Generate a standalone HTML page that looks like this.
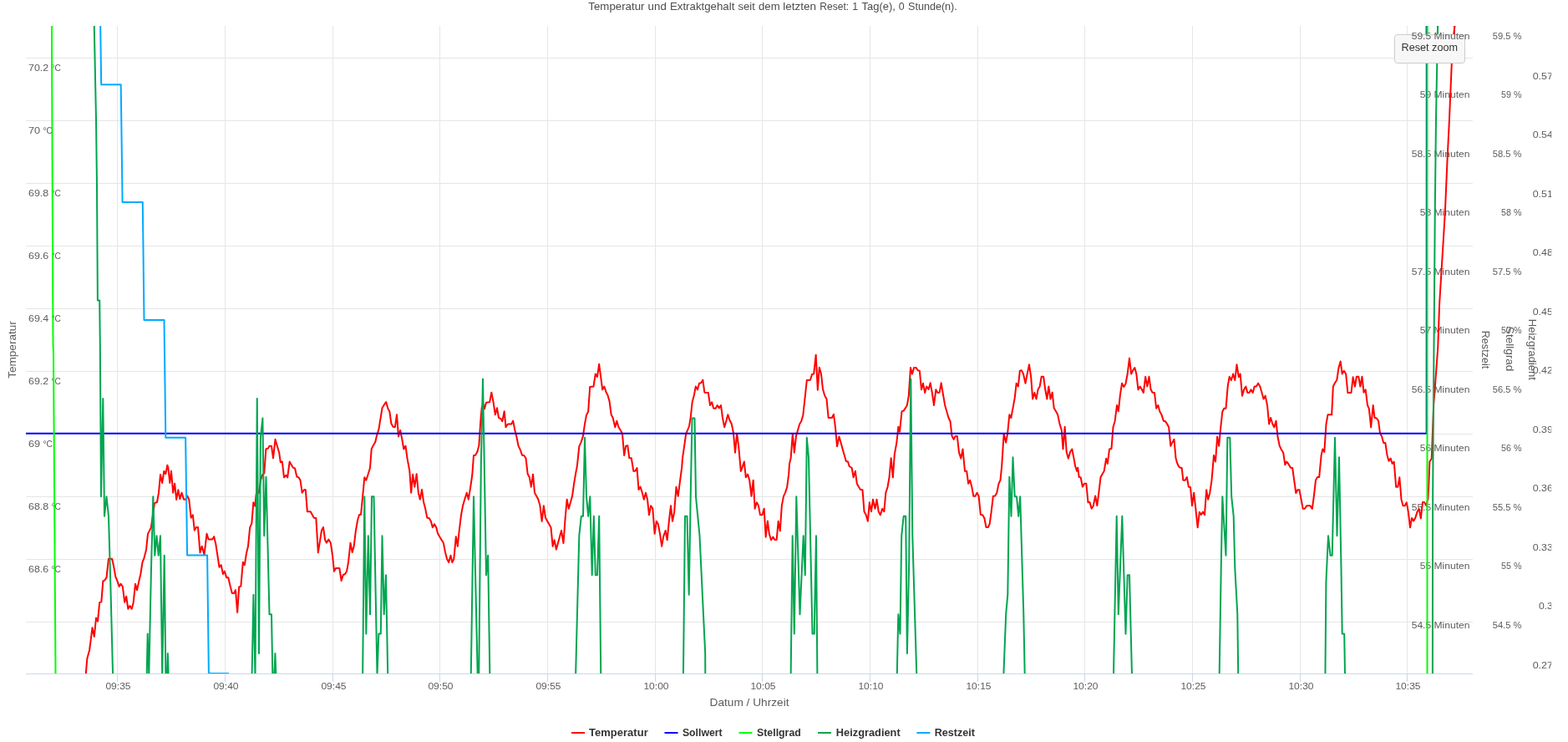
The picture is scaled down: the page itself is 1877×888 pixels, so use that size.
<!DOCTYPE html>
<html lang="de"><head><meta charset="utf-8"><title>Temperatur und Extraktgehalt</title>
<style>
html,body{margin:0;padding:0;background:#fff;overflow:hidden}
svg{display:block;font-family:"Liberation Sans", sans-serif}
text{white-space:pre}
.al{font-size:10.8px;fill:#5c5c5c}
.at{font-size:12.4px;fill:#5c5c5c}
.lg{font-size:12.4px;font-weight:bold;fill:#333333}
</style></head><body>
<svg width="1877" height="888" viewBox="0 0 1877 888">
<rect x="0" y="0" width="1877" height="888" fill="#ffffff"/>
<text y="12" style="font-size:12.4px;fill:#4d4d4d"><tspan x="704.3" textLength="67.2" lengthAdjust="spacingAndGlyphs">Temperatur</tspan> <tspan x="775.6" textLength="22.2" lengthAdjust="spacingAndGlyphs">und</tspan> <tspan x="801.9" textLength="77.5" lengthAdjust="spacingAndGlyphs">Extraktgehalt</tspan> <tspan x="883.6" textLength="20.3" lengthAdjust="spacingAndGlyphs">seit</tspan> <tspan x="908" textLength="25.6" lengthAdjust="spacingAndGlyphs">dem</tspan> <tspan x="937.3" textLength="39.8" lengthAdjust="spacingAndGlyphs">letzten</tspan> <tspan x="981.2" textLength="35.0" lengthAdjust="spacingAndGlyphs">Reset:</tspan> <tspan x="1020.2">1</tspan> <tspan x="1031.5" textLength="40.4" lengthAdjust="spacingAndGlyphs">Tag(e),</tspan> <tspan x="1075.7">0</tspan> <tspan x="1087" textLength="58.8" lengthAdjust="spacingAndGlyphs">Stunde(n).</tspan></text>
<defs><clipPath id="rc"><rect x="1800" y="0" width="57.2" height="888"/></clipPath></defs>
<path d="M140.5 31 V806 M269.5 31 V806 M398.5 31 V806 M526.5 31 V806 M655.5 31 V806 M784.5 31 V806 M912.5 31 V806 M1041.5 31 V806 M1170.5 31 V806 M1298.5 31 V806 M1427.5 31 V806 M1556.5 31 V806 M1684.5 31 V806 M31 69.5 H1763 M31 144.5 H1763 M31 219.5 H1763 M31 294.5 H1763 M31 369.5 H1763 M31 444.5 H1763 M31 519.5 H1763 M31 594.5 H1763 M31 669.5 H1763 M31 744.5 H1763" stroke="#E6E6E6" stroke-width="1" fill="none"/>
<path d="M31 806.5 H1763 M140.5 806.5 V816 M269.5 806.5 V816 M398.5 806.5 V816 M526.5 806.5 V816 M655.5 806.5 V816 M784.5 806.5 V816 M912.5 806.5 V816 M1041.5 806.5 V816 M1170.5 806.5 V816 M1298.5 806.5 V816 M1427.5 806.5 V816 M1556.5 806.5 V816 M1684.5 806.5 V816" stroke="#CCD6EB" stroke-width="1" fill="none"/>
<text class="al" x="141.5" y="825" text-anchor="middle" textLength="30.1" lengthAdjust="spacingAndGlyphs">09:35</text>
<text class="al" x="270.5" y="825" text-anchor="middle" textLength="30.1" lengthAdjust="spacingAndGlyphs">09:40</text>
<text class="al" x="399.5" y="825" text-anchor="middle" textLength="30.1" lengthAdjust="spacingAndGlyphs">09:45</text>
<text class="al" x="527.5" y="825" text-anchor="middle" textLength="30.1" lengthAdjust="spacingAndGlyphs">09:50</text>
<text class="al" x="656.5" y="825" text-anchor="middle" textLength="30.1" lengthAdjust="spacingAndGlyphs">09:55</text>
<text class="al" x="785.5" y="825" text-anchor="middle" textLength="30.1" lengthAdjust="spacingAndGlyphs">10:00</text>
<text class="al" x="913.5" y="825" text-anchor="middle" textLength="30.1" lengthAdjust="spacingAndGlyphs">10:05</text>
<text class="al" x="1042.5" y="825" text-anchor="middle" textLength="30.1" lengthAdjust="spacingAndGlyphs">10:10</text>
<text class="al" x="1171.5" y="825" text-anchor="middle" textLength="30.1" lengthAdjust="spacingAndGlyphs">10:15</text>
<text class="al" x="1299.5" y="825" text-anchor="middle" textLength="30.1" lengthAdjust="spacingAndGlyphs">10:20</text>
<text class="al" x="1428.5" y="825" text-anchor="middle" textLength="30.1" lengthAdjust="spacingAndGlyphs">10:25</text>
<text class="al" x="1557.5" y="825" text-anchor="middle" textLength="30.1" lengthAdjust="spacingAndGlyphs">10:30</text>
<text class="al" x="1685.5" y="825" text-anchor="middle" textLength="30.1" lengthAdjust="spacingAndGlyphs">10:35</text>
<text class="al" y="85"><tspan x="34.0" textLength="24.2" lengthAdjust="spacingAndGlyphs">70.2</tspan> <tspan x="61.5" textLength="11.4" lengthAdjust="spacingAndGlyphs">°C</tspan></text>
<text class="al" y="160"><tspan x="34.0" textLength="14.2" lengthAdjust="spacingAndGlyphs">70</tspan> <tspan x="51.5" textLength="11.4" lengthAdjust="spacingAndGlyphs">°C</tspan></text>
<text class="al" y="235"><tspan x="34.0" textLength="24.2" lengthAdjust="spacingAndGlyphs">69.8</tspan> <tspan x="61.5" textLength="11.4" lengthAdjust="spacingAndGlyphs">°C</tspan></text>
<text class="al" y="310"><tspan x="34.0" textLength="24.2" lengthAdjust="spacingAndGlyphs">69.6</tspan> <tspan x="61.5" textLength="11.4" lengthAdjust="spacingAndGlyphs">°C</tspan></text>
<text class="al" y="385"><tspan x="34.0" textLength="24.2" lengthAdjust="spacingAndGlyphs">69.4</tspan> <tspan x="61.5" textLength="11.4" lengthAdjust="spacingAndGlyphs">°C</tspan></text>
<text class="al" y="460"><tspan x="34.0" textLength="24.2" lengthAdjust="spacingAndGlyphs">69.2</tspan> <tspan x="61.5" textLength="11.4" lengthAdjust="spacingAndGlyphs">°C</tspan></text>
<text class="al" y="535"><tspan x="34.0" textLength="14.2" lengthAdjust="spacingAndGlyphs">69</tspan> <tspan x="51.5" textLength="11.4" lengthAdjust="spacingAndGlyphs">°C</tspan></text>
<text class="al" y="610"><tspan x="34.0" textLength="24.2" lengthAdjust="spacingAndGlyphs">68.8</tspan> <tspan x="61.5" textLength="11.4" lengthAdjust="spacingAndGlyphs">°C</tspan></text>
<text class="al" y="685"><tspan x="34.0" textLength="24.2" lengthAdjust="spacingAndGlyphs">68.6</tspan> <tspan x="61.5" textLength="11.4" lengthAdjust="spacingAndGlyphs">°C</tspan></text>
<text class="al" x="1821.4" y="47" text-anchor="end" textLength="34.7" lengthAdjust="spacingAndGlyphs">59.5 %</text>
<text class="al" x="1759.5" y="117" text-anchor="end" textLength="59.7" lengthAdjust="spacingAndGlyphs">59 Minuten</text>
<text class="al" x="1821.4" y="117" text-anchor="end" textLength="24.4" lengthAdjust="spacingAndGlyphs">59 %</text>
<text class="al" x="1759.5" y="188" text-anchor="end" textLength="69.8" lengthAdjust="spacingAndGlyphs">58.5 Minuten</text>
<text class="al" x="1821.4" y="188" text-anchor="end" textLength="34.7" lengthAdjust="spacingAndGlyphs">58.5 %</text>
<text class="al" x="1759.5" y="258" text-anchor="end" textLength="59.7" lengthAdjust="spacingAndGlyphs">58 Minuten</text>
<text class="al" x="1821.4" y="258" text-anchor="end" textLength="24.4" lengthAdjust="spacingAndGlyphs">58 %</text>
<text class="al" x="1759.5" y="329" text-anchor="end" textLength="69.8" lengthAdjust="spacingAndGlyphs">57.5 Minuten</text>
<text class="al" x="1821.4" y="329" text-anchor="end" textLength="34.7" lengthAdjust="spacingAndGlyphs">57.5 %</text>
<text class="al" x="1759.5" y="399" text-anchor="end" textLength="59.7" lengthAdjust="spacingAndGlyphs">57 Minuten</text>
<text class="al" x="1821.4" y="399" text-anchor="end" textLength="24.4" lengthAdjust="spacingAndGlyphs">57 %</text>
<text class="al" x="1759.5" y="470" text-anchor="end" textLength="69.8" lengthAdjust="spacingAndGlyphs">56.5 Minuten</text>
<text class="al" x="1821.4" y="470" text-anchor="end" textLength="34.7" lengthAdjust="spacingAndGlyphs">56.5 %</text>
<text class="al" x="1759.5" y="540" text-anchor="end" textLength="59.7" lengthAdjust="spacingAndGlyphs">56 Minuten</text>
<text class="al" x="1821.4" y="540" text-anchor="end" textLength="24.4" lengthAdjust="spacingAndGlyphs">56 %</text>
<text class="al" x="1759.5" y="611" text-anchor="end" textLength="69.8" lengthAdjust="spacingAndGlyphs">55.5 Minuten</text>
<text class="al" x="1821.4" y="611" text-anchor="end" textLength="34.7" lengthAdjust="spacingAndGlyphs">55.5 %</text>
<text class="al" x="1759.5" y="681" text-anchor="end" textLength="59.7" lengthAdjust="spacingAndGlyphs">55 Minuten</text>
<text class="al" x="1821.4" y="681" text-anchor="end" textLength="24.4" lengthAdjust="spacingAndGlyphs">55 %</text>
<text class="al" x="1759.5" y="752" text-anchor="end" textLength="69.8" lengthAdjust="spacingAndGlyphs">54.5 Minuten</text>
<text class="al" x="1821.4" y="752" text-anchor="end" textLength="34.7" lengthAdjust="spacingAndGlyphs">54.5 %</text>
<text class="al" clip-path="url(#rc)" x="1858.9" y="95" text-anchor="end" textLength="24.2" lengthAdjust="spacingAndGlyphs">0.57</text>
<text class="al" clip-path="url(#rc)" x="1858.9" y="165" text-anchor="end" textLength="24.2" lengthAdjust="spacingAndGlyphs">0.54</text>
<text class="al" clip-path="url(#rc)" x="1858.9" y="236" text-anchor="end" textLength="24.2" lengthAdjust="spacingAndGlyphs">0.51</text>
<text class="al" clip-path="url(#rc)" x="1858.9" y="306" text-anchor="end" textLength="24.2" lengthAdjust="spacingAndGlyphs">0.48</text>
<text class="al" clip-path="url(#rc)" x="1858.9" y="377" text-anchor="end" textLength="24.2" lengthAdjust="spacingAndGlyphs">0.45</text>
<text class="al" clip-path="url(#rc)" x="1858.9" y="447" text-anchor="end" textLength="24.2" lengthAdjust="spacingAndGlyphs">0.42</text>
<text class="al" clip-path="url(#rc)" x="1858.9" y="518" text-anchor="end" textLength="24.2" lengthAdjust="spacingAndGlyphs">0.39</text>
<text class="al" clip-path="url(#rc)" x="1858.9" y="588" text-anchor="end" textLength="24.2" lengthAdjust="spacingAndGlyphs">0.36</text>
<text class="al" clip-path="url(#rc)" x="1858.9" y="659" text-anchor="end" textLength="24.2" lengthAdjust="spacingAndGlyphs">0.33</text>
<text class="al" clip-path="url(#rc)" x="1858.9" y="729" text-anchor="end" textLength="17.0" lengthAdjust="spacingAndGlyphs">0.3</text>
<text class="al" clip-path="url(#rc)" x="1858.9" y="800" text-anchor="end" textLength="24.2" lengthAdjust="spacingAndGlyphs">0.27</text>
<text class="at" transform="translate(19.1,418.5) rotate(-90)" text-anchor="middle" textLength="68.7" lengthAdjust="spacingAndGlyphs">Temperatur</text>
<text class="at" transform="translate(1773.7,418.5) rotate(90)" text-anchor="middle" textLength="45.5" lengthAdjust="spacingAndGlyphs">Restzeit</text>
<text class="at" transform="translate(1802.5,417.6) rotate(90)" text-anchor="middle" textLength="53.5" lengthAdjust="spacingAndGlyphs">Stellgrad</text>
<text class="at" transform="translate(1830.1,418.4) rotate(90)" text-anchor="middle" textLength="73.2" lengthAdjust="spacingAndGlyphs">Heizgradient</text>
<text class="at" x="897" y="845" text-anchor="middle" textLength="95" lengthAdjust="spacingAndGlyphs">Datum / Uhrzeit</text>
<defs><clipPath id="pc"><rect x="31" y="31" width="1732" height="775"/></clipPath></defs>
<g clip-path="url(#pc)"><g id="ser">
<path d="M102.6 812 L102.8 806 L104.35 788 L107.1 778 L108.67 766.17 L110.5 751.17 L112.83 762 L115 739.5 L117 743.67 L119.17 721.17 L121.33 720.33 L123.33 695.33 L125.33 694.5 L127.5 691.17 L130 668.67 L134.17 668.67 L136.33 678.67 L138.33 690.33 L140.5 695.33 L142.67 702 L144.67 698.67 L146.83 702 L149.17 720.67 L151.17 713.67 L153.33 728.67 L155.5 725 L157.67 728.67 L159.67 721.17 L162 698.67 L164 706.17 L166 697 L168.33 687 L170.5 672.83 L172.5 667.83 L175 658 L177 638.83 L180.83 631.33 L182.5 619.67 L185 602.17 L188 601 L190 589.67 L192 568 L194.17 578 L196.33 563.83 L198.33 567.17 L200.33 556.67 L201.33 559.67 L203.33 578 L205 563.83 L207.17 589.67 L209.17 578.83 L211.17 598 L213.33 586.33 L215.33 597.17 L217.5 589.67 L220 597.67 L222.5 597.67 L224.17 593.33 L226.33 598 L228.67 619.67 L230.83 616.33 L232.83 634.67 L235 631 L237 631 L239.5 661.33 L241.67 653.83 L244.5 663.83 L247.5 638.83 L249.67 645.5 L254.17 645.5 L256.17 642.17 L258.33 651.33 L262.5 678.67 L264.67 676.17 L267 687 L268.83 683.67 L271.17 691.17 L273.33 691.17 L275.33 700.33 L277.83 710 L280 710 L282 706.17 L284.17 732.83 L286.17 702.5 L288.33 701.67 L290.83 672.83 L292.83 676.17 L295 662 L297 653.83 L299.17 631.33 L301.33 626.33 L303.33 601.33 L305.33 605.5 L306.67 591.33 L310 589.67 L312 574.67 L314.17 568 L316.33 566.33 L318.33 537.5 L320.83 536.67 L322.5 533.67 L325 533.67 L327 548.33 L329.5 525.83 L331.67 533.33 L334.17 541.67 L335.83 553.33 L337.83 552.5 L340 571.33 L342.5 568.83 L344.17 571.33 L346.67 552.5 L350.83 559.67 L353 560.5 L355.33 570.5 L357.5 571.33 L359.5 574.67 L361.67 589.67 L364.17 586 L365.83 586.33 L367.83 612.17 L371.67 612.17 L375.83 619.67 L378.33 620 L380.83 661.33 L385 634.67 L387 631 L389.17 646.33 L390.83 649.67 L393.33 645.5 L395.83 649.67 L398 664.67 L400 683.83 L402 680 L406.33 680 L408.67 695 L410.83 687.67 L412.83 687.17 L415 683.83 L417 673 L419.5 649.67 L421.67 661 L423.67 653.83 L425.83 635.5 L428 623 L430 616 L432 616 L434.17 593.83 L436.33 571.33 L438.33 574.67 L440.5 568 L443 560 L444.67 537.5 L446.67 533.33 L449.17 529.17 L451.17 520.83 L453.33 514.17 L455.5 500.83 L457.5 488.33 L460 484.17 L462.17 481.17 L464.5 489.17 L466.33 492.5 L468.33 506.67 L470.5 510.83 L472.83 511.33 L475 496.17 L477 522.5 L479.17 515 L481.17 525 L483.33 537.5 L485.5 533.67 L487.5 548.33 L490.33 563.83 L492.17 589.67 L494.17 567.67 L496.33 582.67 L498.67 567.17 L500.83 589.67 L502.83 597.67 L505 586 L507.17 601.33 L509.17 608.83 L511.33 619.67 L513.67 620 L515.83 623.83 L517.83 631.33 L520 627.17 L522.17 631 L524.17 638.83 L526.67 643 L530.83 649.67 L533 661 L535 668.83 L537.17 673 L539.5 664.67 L541.33 673 L543.33 668.83 L545.83 642.17 L547.83 653.83 L549.67 635.5 L552 616.33 L554.17 604.67 L556.67 596.33 L558.83 589.67 L560.83 597.67 L563.33 582.17 L565.33 568 L567 545 L569.17 544.67 L571.33 540.83 L573.33 533.33 L575.33 503.33 L576.67 488.33 L578.33 483.33 L580 489.17 L582 481.67 L586.17 481.33 L588.33 469.67 L590.5 480.83 L592.83 496.33 L595 488.33 L597 500 L599.17 500.83 L601.33 504.17 L603.67 492.17 L605.5 511.33 L607.83 507.5 L612.17 507.5 L614.17 503.67 L616.33 514.67 L618.33 522.5 L620.5 533.33 L622.83 538.33 L625 544.67 L627.17 545 L629.5 548.33 L631.67 567.17 L633.83 571.33 L635.83 582.67 L638 567.67 L640 589.67 L644.17 597.17 L646.33 604.67 L648.67 623.83 L650.83 605.17 L653 619.67 L656.67 626.33 L659.5 631.33 L661.67 653.83 L663.67 646.33 L665.83 657.67 L672 635 L674.5 650 L676.67 619.67 L678.67 597.67 L680.83 608.83 L685 593.83 L687 579.67 L689.17 566.33 L690.83 558 L693.33 534.17 L695.5 529.67 L698 521.67 L700 507.5 L702 496.67 L704.17 492.5 L706.17 463 L710.5 462.5 L712.83 447.5 L715 450.83 L717.17 435.83 L719.17 450.83 L721.17 466.33 L723.33 462.5 L725.5 469.17 L727.5 473 L729.67 480.83 L731.67 496.33 L733.67 500 L736.33 511.33 L738.33 503.67 L740.5 511.33 L743 515.33 L745 519.17 L747.17 545 L749.17 533.67 L751.33 533.33 L753.33 548.33 L755.83 548.33 L758.33 563.83 L760.33 563.83 L762.5 560 L764.5 586 L766.67 582.67 L768.83 589.67 L770.83 597.67 L773 589.67 L775 597.67 L777 616.33 L779.17 605.17 L781.33 608.83 L783.67 638.83 L785.83 623.83 L787.83 627.17 L790 638.83 L792.17 653.83 L794.17 642.17 L796.67 635 L798.67 646.33 L800.83 623.83 L803 605.17 L805 623.83 L807.17 612.67 L809.5 582.67 L811.67 593.83 L814.17 574.67 L816.17 559.67 L817 548.33 L819.17 533.67 L821.17 519.17 L823.33 514.17 L825 510 L826.67 500 L828.67 481.33 L830.83 473 L832.83 462.5 L835 466.33 L837 458.83 L839.17 458.33 L841.33 454.67 L843.33 469.67 L847.83 470 L850 485 L852.17 481.33 L854.17 488.67 L856.67 488.67 L858.67 485 L860.83 488.33 L863 485 L865 500 L867.17 511.33 L869.5 503.33 L871.33 496.33 L873.33 502.5 L875.83 507.5 L878 518.33 L880 541.67 L882.17 519.17 L884.17 534.17 L886.83 563.83 L888.67 558.83 L890.83 552.5 L892.83 571.33 L895 567.67 L897.17 574.67 L899.5 593.83 L901.67 574.67 L903.67 608.83 L905.83 601.33 L907.83 604.67 L910 616.33 L912.5 616.33 L914.67 608.83 L916.67 642.67 L918.83 623.5 L920.83 638.83 L923 646.33 L925.33 642.67 L927.5 646 L929.67 646 L931.67 623.83 L933.83 635.5 L935.83 605.17 L938 593.83 L940 589.67 L942.17 583 L944.17 567.67 L945 555 L946.67 548.33 L948.83 519.17 L950.83 541.67 L953 521.67 L955 515 L957.17 507.5 L959.17 504.17 L961.33 496.67 L963.33 478.33 L965.83 455 L970 454.67 L972 448 L974.17 447.5 L976.67 424.67 L978.83 466.67 L980.83 439.67 L983 447.5 L985 465.83 L987.17 473.33 L989.5 477.5 L991.67 500 L995.83 500 L998 495.83 L1000 511.67 L1002 534.17 L1004.5 522.5 L1006.67 530 L1008.67 537.5 L1010.83 545 L1012.83 552 L1015 552.5 L1016.67 558 L1019.67 560 L1021.67 571.33 L1023.83 563.83 L1025.83 578.83 L1028 582.67 L1030 586 L1032.5 586.33 L1034.5 612.17 L1036.67 616.33 L1038.83 623.83 L1040.83 601.33 L1043 612.17 L1045 597.67 L1047.5 608.83 L1049.5 597.67 L1051.67 612.17 L1053.83 616.33 L1056.17 608.83 L1058.33 612.17 L1060.33 589.67 L1062.5 583 L1064.5 571.33 L1066.67 548.33 L1068.83 571.33 L1070.83 543.33 L1073.33 530 L1075.33 510.83 L1077 516.67 L1079.5 492.5 L1081.67 491.67 L1083.67 488.67 L1085.83 485 L1087.83 473.33 L1090 440 L1092 447.5 L1094.17 440 L1096.67 440 L1098.67 443.33 L1100.83 443.67 L1103 466.33 L1105 458.83 L1107.17 470 L1109.17 462.5 L1111.67 465.83 L1113.67 458.33 L1115.83 470 L1118 485 L1120.33 466.33 L1122.5 470 L1124.67 469.67 L1126.67 458.33 L1129.17 473.33 L1131.17 485 L1133.33 492.5 L1135.5 500 L1137.5 504.17 L1139.5 521.67 L1141.67 525.83 L1143.67 522 L1145.83 522 L1148 541.67 L1150.33 548.67 L1152.5 537.5 L1155 563.83 L1157.17 563.83 L1159.17 578.83 L1161.17 574.67 L1163.33 582.67 L1165.33 593.83 L1167.5 593.83 L1169.5 589.67 L1171.67 593.83 L1173.83 616 L1176.17 616.33 L1178.33 620 L1180.5 631 L1182.83 631 L1184.67 627.17 L1186.67 612.67 L1188.83 593.83 L1191.17 593.5 L1193.33 589.67 L1195.5 578.83 L1197.5 574.67 L1199.17 558 L1201.67 519.17 L1204.17 529.67 L1206.17 518.33 L1208.33 496.33 L1210.33 500 L1212.5 488.33 L1214.67 476.67 L1216.67 458.83 L1218.83 462.5 L1220.83 443.83 L1223 443.33 L1225 447.5 L1227.5 458.83 L1229.67 447.5 L1232 436.33 L1234.17 450.83 L1236.17 477.5 L1238.33 470 L1240.5 477.5 L1242.5 466.33 L1244.67 462.5 L1246.67 450.83 L1249.17 450.83 L1251.17 465.83 L1253.33 477.5 L1255.33 462.5 L1257.5 477.5 L1259.67 469.67 L1261.67 488.33 L1264.17 492.5 L1266.17 496.33 L1268.33 506.67 L1270.83 515 L1272.5 537.5 L1274.67 510.83 L1276.67 540.83 L1278.83 548.67 L1281.17 540.83 L1283.33 537.5 L1285.5 548.67 L1287.17 558 L1289.17 563.83 L1290.17 559.67 L1291.67 571 L1293.67 571.33 L1295.83 582.67 L1298 578.83 L1300.33 578.83 L1302.5 601.33 L1304.5 601 L1306.67 608.83 L1308.83 605.17 L1311.17 593.5 L1313.33 605.17 L1315.33 589.67 L1317.5 571.33 L1319.67 567.17 L1321.67 563.83 L1324.17 548.67 L1325.83 555 L1328 537.5 L1330.5 537 L1332.5 511.33 L1334.67 503.67 L1337 485 L1338.83 492.17 L1340.83 473.33 L1343 458.83 L1345.33 463 L1347.5 459.17 L1349.67 447.5 L1352 428.67 L1354.17 447.5 L1356.17 443.33 L1358.33 440 L1360.33 447.5 L1362.5 466.33 L1364.67 462.5 L1366.67 465.83 L1368.83 470 L1371.17 450.83 L1373.33 462.5 L1375.5 450.83 L1377.5 465.83 L1379.5 469.67 L1382 470 L1384.17 488.67 L1386.33 485 L1388.33 492.5 L1390.5 496.33 L1392.83 503.67 L1395 504.17 L1397.17 507.5 L1399.17 511.33 L1401.33 533.67 L1403.33 529.67 L1405.5 525.83 L1407.5 548.33 L1409.17 554.17 L1410.83 558 L1412.83 559.67 L1414.67 560 L1416.33 574.67 L1418.67 574.67 L1420.83 571 L1422.83 582.67 L1425 583 L1427 605.17 L1429.17 589.67 L1431.33 608.83 L1433.67 631.33 L1435.83 612.67 L1437.83 616 L1440 612.67 L1442 616.33 L1444.17 586.33 L1446.17 597.67 L1448.33 589.67 L1450.5 574.67 L1453 545 L1455 552.5 L1457.17 522.5 L1459.17 533.67 L1461.33 510.83 L1463.33 492.5 L1465.33 488.67 L1467.5 488.67 L1469.67 462.5 L1471.67 450.83 L1473.83 455 L1476.17 447.5 L1478.33 455 L1480.5 436.33 L1482.83 451.33 L1484.67 447.5 L1487 473.67 L1489.17 466.33 L1491.33 462.5 L1493.33 470 L1495.5 470 L1497.5 466.33 L1499.67 470 L1501.67 462.5 L1503.83 462.5 L1506.17 458.67 L1508.33 462.5 L1510.5 470 L1512.5 477.5 L1514.67 473.67 L1517 485 L1519.17 507.5 L1521.17 500 L1523.33 507.5 L1525.33 511.33 L1527.5 503.67 L1529.5 522.5 L1531.67 533.33 L1533.83 538 L1536.17 541.67 L1538.33 556.33 L1540 552.5 L1542.17 555 L1545 559.67 L1547.17 560 L1549.17 574.67 L1551.33 590 L1553.33 586.33 L1555.5 586.33 L1557.5 597.17 L1559.67 608.83 L1562 608.83 L1564.17 605.17 L1568.33 605.17 L1570.83 608.83 L1572.83 593.83 L1575 574.67 L1577 571 L1579.17 571 L1581.67 544.67 L1583.33 537.5 L1585.33 540.83 L1587.5 507.5 L1589.5 496.33 L1594.17 496.33 L1595.83 462.5 L1598 458.33 L1600.33 454.67 L1602.5 440 L1604.67 432.5 L1606.67 447.5 L1608.83 443.83 L1611.17 447.5 L1613.33 470 L1617.5 470 L1619.67 451.33 L1622 462.5 L1623.83 450.83 L1626.33 450.83 L1628.33 462.5 L1630.5 450.83 L1632.5 469.67 L1634.67 466.33 L1637 485 L1638.83 489.17 L1641.17 511.33 L1643.67 485 L1645.5 500 L1647.83 500.5 L1650 503.67 L1652 518.33 L1654.17 522.5 L1656.17 530 L1658.33 530 L1660.5 544.67 L1662.5 551.67 L1664.67 548.67 L1666.67 555 L1668.67 552.5 L1671.17 582.67 L1673.33 582.67 L1675.33 571.33 L1677.5 597.67 L1679.5 605.17 L1681.67 605.17 L1683.83 601.33 L1685.83 612.67 L1688 631.33 L1690 620 L1692.17 623.5 L1694.17 620 L1696.67 612.17 L1698.67 608.83 L1700.83 620.5 L1703 601 L1705 601 L1707.17 604.67 L1709.17 598 L1709.4 597.5 L1710.4 577.5 L1711.4 552.5 L1713.75 548.75 L1716.2 484 L1716.9 475 L1721.25 416.5 L1723.1 364 L1729.9 253 L1732.5 192 L1735 142 L1737.8 75.7 L1741.3 31 L1742.3 18" fill="none" stroke="#FF0000" stroke-width="2" stroke-linejoin="round" stroke-linecap="round"/>
<path d="M31 518.75 L1707.7 518.75 L1707.8 20" fill="none" stroke="#0000FF" stroke-width="2" stroke-linejoin="round" stroke-linecap="round"/>
<path d="M61.95 20 L62 45 L63.5 410 L64 425 L66.4 790 L66.5 806 L66.6 830 L1708.5 830 L1708.5 20" fill="none" stroke="#00FF00" stroke-width="2" stroke-linejoin="round" stroke-linecap="round"/>
<path d="M112.3 10 L112.75 31 L115 142 L116 222 L116.5 300 L116.9 359.5 L119.2 359.5 L119.8 411 L121 594.3 L123.3 476.9 L125 617.8 L127.5 594.3 L130 617.8 L132.5 706 L135.2 812 L175.6 812 L176.7 758.6 L178.3 808 L181 680 L183.3 594.3 L185.3 664.7 L187.5 641.2 L189.7 664.7 L192 641.2 L194.2 808 L196.7 664.7 L198.4 812 L200 812 L200.8 782.1 L201.8 812 L301.5 812 L303.4 711.7 L305.5 812 L307.75 476.9 L310 782.1 L311.9 523.8 L314.4 500.4 L316.25 641.2 L318.5 570.8 L322.5 735.2 L325 735.2 L326.4 812 L328.2 812 L329.4 782.1 L330.5 812 L434.1 812 L436.3 594.3 L438.3 758.6 L440.8 641.2 L443 735.2 L445 594.3 L447.5 594.3 L451.5 809 L453.3 758.6 L455.8 758.6 L457.5 641.2 L459.7 735.2 L462 688.2 L464.3 812 L563.7 812 L567 594.3 L571.8 812 L573.2 812 L575.8 558 L578 453.4 L582 688.2 L584.2 664.7 L586.4 812 L689 812 L693.3 641.2 L695.8 617.8 L698 617.8 L700 523.8 L702 594.3 L704.2 617.8 L706.3 594.3 L708.7 688.2 L710.8 617.8 L712.8 688.2 L715 688.2 L717.2 617.8 L719.3 812 L817.9 812 L820 617.8 L822.5 617.8 L824.7 711.7 L826.7 594.3 L828.5 500.4 L831.5 500.4 L833 594.3 L837.5 641.2 L844.2 782.1 L844.3 812 L946.6 812 L948.7 641.2 L950.8 758.6 L953.3 594.3 L957.5 735.2 L961.7 641.2 L963.8 688.2 L965.8 523.8 L968 547.3 L972.5 758.6 L974.7 758.6 L977 641.2 L978.4 812 L1073.7 812 L1075.3 735.2 L1077.5 758.6 L1079.2 641.2 L1081.7 617.8 L1084.2 617.8 L1085.9 782.1 L1088.2 672 L1090.3 453.4 L1092.3 641.2 L1097.4 812 L1201.2 812 L1204.2 735.2 L1206.3 711.7 L1208.3 570.8 L1210.5 617.8 L1212.5 547.3 L1214.7 594.3 L1217 594.3 L1219.2 617.8 L1221.2 594.3 L1225.3 735.2 L1226.8 812 L1332.9 812 L1336.7 617.8 L1338.8 735.2 L1343.3 617.8 L1347.5 758.6 L1349.7 688.2 L1352 688.2 L1355.1 812 L1459.6 812 L1461.7 680 L1463.3 594.3 L1467.5 664.7 L1469.3 523.8 L1472.3 523.8 L1474.2 594.3 L1476.7 617.8 L1478.3 680 L1481.3 735.2 L1482.3 812 L1586.4 812 L1587.4 697 L1590 641.2 L1592.5 664.7 L1594.7 664.7 L1598 523.8 L1600.5 641.2 L1603 547.3 L1605.5 680 L1606.7 758.6 L1609.2 758.6 L1610.1 812 L1714.9 812 L1715 651 L1715.2 586 L1716 475 L1716.9 364 L1717.75 253 L1719 142 L1721.1 31 L1721.5 10" fill="none" stroke="#00A550" stroke-width="2" stroke-linejoin="round" stroke-linecap="round"/>
<path d="M119.3 20 L120.2 31 L121.2 101.3 L144.7 101.3 L146.6 242 L170.8 242 L172.5 382.9 L196.5 382.9 L198.3 523.8 L222.1 523.8 L224.1 664.6 L248.1 664.6 L249.9 805.9 L273.2 805.9" fill="none" stroke="#00AAFF" stroke-width="2" stroke-linejoin="round" stroke-linecap="round"/>
</g></g>
<rect x="1669.5" y="41.5" width="84" height="34" rx="3" ry="3" fill="#f7f7f7" stroke="#cccccc" stroke-width="1"/>
<text class="al" x="1759.5" y="47" text-anchor="end" textLength="69.8" lengthAdjust="spacingAndGlyphs">59.5 Minuten</text>
<text x="1677.5" y="60.9" textLength="67.5" lengthAdjust="spacingAndGlyphs" style="font-size:12.4px;fill:#333333">Reset zoom</text>
<defs><clipPath id="pc2"><rect x="1669" y="31" width="94" height="10"/></clipPath></defs>
<g clip-path="url(#pc2)"><use href="#ser"/></g>
<path d="M684 877 H700" stroke="#FF0000" stroke-width="2" fill="none"/>
<text class="lg" x="705.1" y="881" textLength="70.6" lengthAdjust="spacingAndGlyphs">Temperatur</text>
<path d="M795.5 877 H811.5" stroke="#0000FF" stroke-width="2" fill="none"/>
<text class="lg" x="816.9" y="881" textLength="47.8" lengthAdjust="spacingAndGlyphs">Sollwert</text>
<path d="M884.5 877 H900.5" stroke="#00FF00" stroke-width="2" fill="none"/>
<text class="lg" x="906" y="881" textLength="52.8" lengthAdjust="spacingAndGlyphs">Stellgrad</text>
<path d="M979 877 H995" stroke="#00A550" stroke-width="2" fill="none"/>
<text class="lg" x="1000.8" y="881" textLength="76.9" lengthAdjust="spacingAndGlyphs">Heizgradient</text>
<path d="M1097.4 877 H1113.4" stroke="#00AAFF" stroke-width="2" fill="none"/>
<text class="lg" x="1118.8" y="881" textLength="48.2" lengthAdjust="spacingAndGlyphs">Restzeit</text>
</svg>
</body></html>
